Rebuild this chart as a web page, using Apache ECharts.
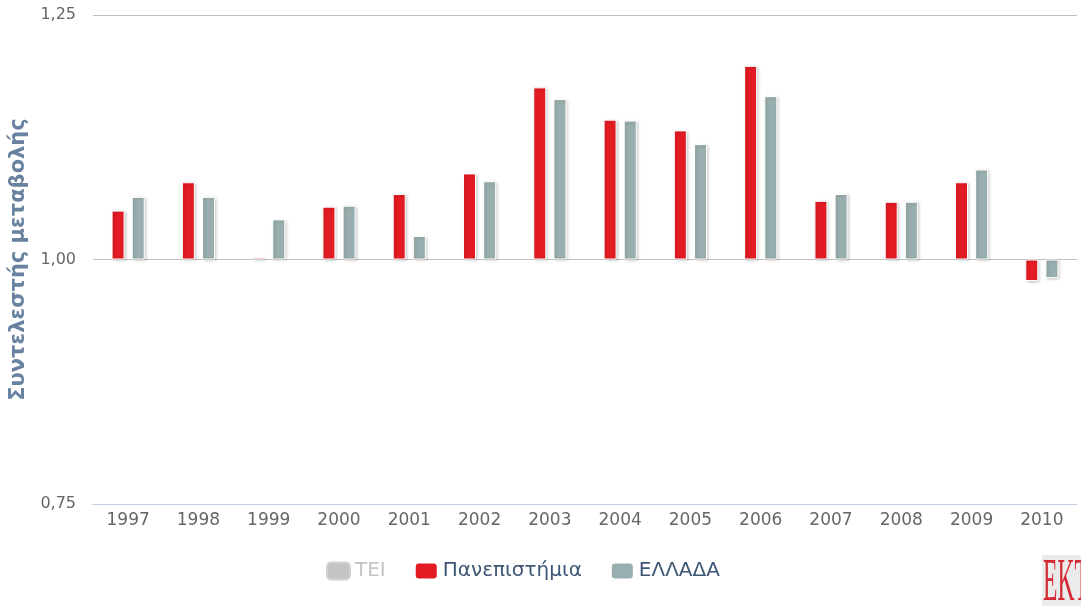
<!DOCTYPE html>
<html>
<head>
<meta charset="utf-8">
<script src="https://cdn.jsdelivr.net/npm/echarts@6/dist/echarts.min.js"></script>
<style>
    html, body { margin: 0; padding: 0; background: #fff; }
    #chart { width: 1081px; height: 606px; }
</style>
</head>
<body>
<div id="chart"></div>
<script>
// 年份
const years = ['1997', '1998', '1999', '2000', '2001', '2002', '2003', '2004', '2005', '2006', '2007', '2008', '2009', '2010']
// συντελεστής μεταβολής ανά έτος
const tei = [] // η σειρά είναι κρυμμένη στο υπόμνημα, οι τιμές δεν φαίνονται
const panepistimia = [1.050, 1.079, 1.002, 1.054, 1.067, 1.088, 1.176, 1.143, 1.132, 1.198, 1.060, 1.059, 1.079, 0.978]
const ellada = [1.064, 1.064, 1.041, 1.055, 1.024, 1.080, 1.164, 1.142, 1.118, 1.167, 1.067, 1.059, 1.092, 0.981]
const seriesNames = ['TEI', 'Πανεπιστήμια', 'ΕΛΛΑΔΑ']
const colors = ['#c0c0c0', '#e31b23', '#99aeae']
// άξονας y: 0,75 - 1,25
const yTicks = [0.75, 1.00, 1.25]
const base = 1 // οι στήλες ξεκινούν από το 1,00

const font = '"DejaVu Sans", Verdana, sans-serif'
const chart = echarts.init(document.getElementById('chart'))

// κοινό στυλ στηλών (λευκό περίγραμμα + σκιά)
const barStyle = (color) => ({
    color: color,
    borderColor: '#fff',
    borderWidth: 1,
    shadowColor: 'rgba(0, 0, 0, 0.2)',
    shadowBlur: 3,
    shadowOffsetX: 1.5,
    shadowOffsetY: 1
})

const mkSeries = (name, values, idx) => ({
    name: name,
    type: 'bar',
    barWidth: 13,
    barGap: '55%',
    itemStyle: barStyle(colors[idx]),
    data: values.map(v => +(v - base).toFixed(4))
})

const option = {
    animation: false,
    color: colors,
    grid: {
        left: 93,
        right: 4,
        top: 15,
        bottom: 102,
        outerBoundsMode: 'none'
    },
    legend: {
        data: seriesNames,
        selected: { 'TEI': false },
        left: 321,
        top: 556,
        itemWidth: 23,
        itemHeight: 17,
        itemGap: 28,
        icon: 'roundRect',
        inactiveColor: '#c4c4c4',
        textStyle: {
            color: '#3e5775',
            fontSize: 20,
            fontFamily: font
        }
    },
    xAxis: {
        type: 'category',
        data: years,
        axisLine: { onZero: false, lineStyle: { color: '#c0d0e0', width: 1 } },
        axisTick: { length: 8, lineStyle: { color: '#c0d0e0' } },
        axisLabel: { color: '#666', fontSize: 17, margin: 8, fontFamily: font }
    },
    yAxis: {
        type: 'value',
        min: yTicks[0] - base,
        max: yTicks[2] - base,
        interval: 0.25,
        name: 'Συντελεστής μεταβολής',
        nameLocation: 'middle',
        nameGap: 63,
        nameTextStyle: {
            color: '#6882a0',
            fontSize: 21,
            fontWeight: 'bold',
            fontFamily: font
        },
        axisLine: { show: false },
        axisTick: { show: false },
        axisLabel: {
            color: '#666',
            fontSize: 16,
            margin: 17,
            fontFamily: font,
            formatter: (v) => (v + base).toFixed(2).replace('.', ',')
        },
        splitLine: { lineStyle: { color: '#c0c0c0', width: 1 } }
    },
    series: [
        mkSeries(seriesNames[0], tei, 0),
        mkSeries(seriesNames[1], panepistimia, 1),
        mkSeries(seriesNames[2], ellada, 2)
    ],
    graphic: [
        // λογότυπο ΕΚΤ κάτω δεξιά
        {
            type: 'group',
            left: 1042,
            top: 553,
            children: [
                { type: 'rect', shape: { x: 0, y: 0, width: 45, height: 53 }, style: { fill: '#ebebeb' } },
                {
                    type: 'text',
                    x: 1,
                    y: 29,
                    scaleX: 0.38,
                    style: {
                        text: 'EKT',
                        fill: '#d42a33',
                        verticalAlign: 'middle',
                        font: '62px "Liberation Serif", "DejaVu Serif", serif'
                    }
                }
            ]
        }
    ]
}
chart.setOption(option)
</script>
</body>
</html>
